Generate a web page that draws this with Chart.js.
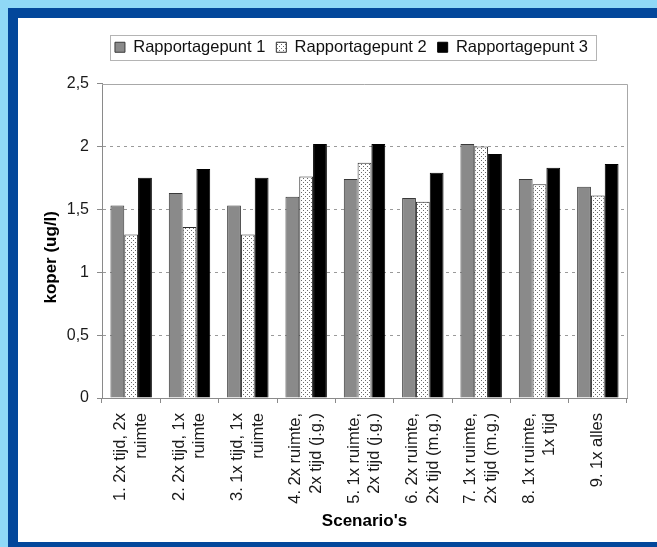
<!DOCTYPE html>
<html>
<head>
<meta charset="utf-8">
<script src="https://cdn.jsdelivr.net/npm/chart.js@4/dist/chart.umd.min.js"></script>
<style>
  html, body { margin: 0; padding: 0; background: #8fd8f6; }
  canvas { display: block; }
</style>
</head>
<body>
<canvas id="chart" width="657" height="547"></canvas>
<script>
// Scenarios on the category axis (two text lines each; the last one has a blank lead line)
const scenarios = [
  ['1. 2x tijd, 2x', 'ruimte'],
  ['2. 2x tijd, 1x', 'ruimte'],
  ['3. 1x tijd, 1x', 'ruimte'],
  ['4. 2x ruimte,', '2x tijd (j.g.)'],
  ['5. 1x ruimte,', '2x tijd (j.g.)'],
  ['6. 2x ruimte,', '2x tijd (m.g.)'],
  ['7. 1x ruimte,', '2x tijd (m.g.)'],
  ['8. 1x ruimte,', '1x tijd'],
  [' ', '9. 1x alles']
];

const seriesNames = ['Rapportagepunt 1', 'Rapportagepunt 2', 'Rapportagepunt 3'];

// koper (ug/l) per rapportagepunt
const punt1 = [1.53, 1.63, 1.53, 1.60, 1.74, 1.59, 2.02, 1.74, 1.68];
const punt2 = [1.30, 1.36, 1.30, 1.76, 1.87, 1.56, 2.00, 1.70, 1.61];
const punt3 = [1.75, 1.82, 1.75, 2.02, 2.02, 1.79, 1.94, 1.83, 1.86];

const yTicks = [0, 0.5, 1, 1.5, 2, 2.5];
const yTitle = 'koper (ug/l)';
const xTitle = "Scenario's";

const FONT = "'Liberation Sans', Arial, sans-serif";
const TICK_SIZE = 16.5;
const LINE_H = 20.5;          // spacing of the two label lines, px
const canvas = document.getElementById('chart');
const ctx = canvas.getContext('2d');

// small dotted fill used for the second series
function dottedFill() {
  const tile = document.createElement('canvas');
  tile.width = 4; tile.height = 4;
  const g = tile.getContext('2d');
  g.fillStyle = '#ffffff';
  g.fillRect(0, 0, 4, 4);
  g.fillStyle = '#6a6a6a';
  g.fillRect(1, 0, 1, 1);
  g.fillRect(3, 2, 1, 1);
  return ctx.createPattern(tile, 'repeat');
}

const decorations = {
  id: 'decorations',
  beforeDraw(chart) {
    const c = chart.ctx;
    const w = chart.width, h = chart.height;
    c.save();
    c.fillStyle = '#8fd8f6';
    c.fillRect(0, 0, w, h);
    c.fillStyle = '#03479b';
    c.fillRect(8, 8, w - 8, h - 8);
    c.fillStyle = '#ffffff';
    c.fillRect(18, 18, w - 18, 542 - 18);
    c.restore();
  },
  afterLayout(chart) {
    // place the legend row above the plot
    const lg = chart.legend;
    const dx = 351.5 - (lg.left + lg.right) / 2;
    const dy = -18;
    lg.left += dx; lg.right += dx;
    lg.top += dy; lg.bottom += dy;
  },
  beforeDatasetsDraw(chart) {
    const {top, right, bottom, left} = chart.chartArea;
    const c = chart.ctx;
    c.save();
    c.strokeStyle = '#a8a8a8';
    c.lineWidth = 1;
    c.beginPath();
    c.moveTo(left, Math.round(top) + 0.5);
    c.lineTo(Math.round(right) + 0.5, Math.round(top) + 0.5);
    c.lineTo(Math.round(right) + 0.5, bottom);
    c.stroke();
    c.restore();
  },
  afterDraw(chart) {
    const boxes = chart.legend.legendHitBoxes;
    if (!boxes || !boxes.length) return;
    const x0 = Math.min(...boxes.map(b => b.left)) - 5;
    const x1 = Math.max(...boxes.map(b => b.left + b.width)) + 8;
    const y0 = Math.min(...boxes.map(b => b.top)) - 4;
    const y1 = Math.max(...boxes.map(b => b.top + b.height)) + 4;
    const c = chart.ctx;
    c.save();
    c.strokeStyle = '#b4b4b4';
    c.lineWidth = 1;
    c.strokeRect(Math.round(x0) + 0.5, Math.round(y0) + 0.5, Math.round(x1 - x0), Math.round(y1 - y0));
    c.restore();
  }
};

new Chart(ctx, {
  type: 'bar',
  data: {
    labels: scenarios,
    datasets: [
      { label: seriesNames[0], data: punt1, backgroundColor: '#8a8a8a', borderColor: '#3a3a3a', borderWidth: 1 },
      { label: seriesNames[1], data: punt2, backgroundColor: dottedFill(), borderColor: '#2a2a2a', borderWidth: 1 },
      { label: seriesNames[2], data: punt3, backgroundColor: '#000000', borderColor: '#000000', borderWidth: 1 }
    ]
  },
  options: {
    responsive: false,
    animation: false,
    devicePixelRatio: 1,
    layout: { padding: { left: 0, right: 30, top: 46, bottom: 0 } },
    datasets: {
      bar: { categoryPercentage: 0.71, barPercentage: 1.0 }
    },
    plugins: {
      tooltip: { enabled: false },
      legend: {
        position: 'top',
        align: 'center',
        labels: {
          boxWidth: 10,
          boxHeight: 10,
          padding: 11,
          color: '#111111',
          font: { family: FONT, size: 16.5 }
        }
      }
    },
    scales: {
      x: {
        offset: true,
        grid: {
          offset: true,
          drawOnChartArea: false,
          drawTicks: true,
          tickLength: 5,
          tickColor: '#8a8a8a'
        },
        border: { display: true, color: '#8a8a8a', width: 1 },
        ticks: {
          autoSkip: false,
          minRotation: 90,
          maxRotation: 90,
          padding: 10,
          labelOffset: -LINE_H / 2,
          color: '#1a1a1a',
          // the single-line label gets half spacing so its text sits on the tick
          font: c => ({
            family: FONT,
            size: TICK_SIZE,
            lineHeight: (c.index === scenarios.length - 1 ? LINE_H / 2 : LINE_H) / TICK_SIZE
          })
        },
        title: {
          display: true,
          text: xTitle,
          color: '#000000',
          font: { family: FONT, size: 17, weight: 'bold' },
          padding: { top: 0, bottom: 15 }
        },
        afterFit(scale) { scale.height = 149; }
      },
      y: {
        min: 0,
        max: 2.5,
        afterBuildTicks(scale) { scale.ticks = yTicks.map(v => ({ value: v })); },
        grid: {
          color: c => (c.tick && (c.tick.value === 0 || c.tick.value === 2.5)) ? 'rgba(0,0,0,0)' : '#9a9a9a',
          lineWidth: 1,
          drawTicks: true,
          tickLength: 5,
          tickColor: '#8a8a8a'
        },
        border: { display: true, color: '#8a8a8a', width: 1, dash: [3, 4] },
        ticks: {
          padding: 8,
          color: '#1a1a1a',
          font: { family: FONT, size: 16 },
          callback: v => String(v).replace('.', ',')
        },
        title: {
          display: true,
          // trailing spaces push the centred title a little lower along the axis
          text: yTitle + '       ',
          color: '#000000',
          font: { family: FONT, size: 17, weight: 'bold' },
          padding: { top: 41, bottom: 0 }
        },
        afterFit(scale) { scale.width = 102; }
      }
    }
  },
  plugins: [decorations]
});
</script>
</body>
</html>
